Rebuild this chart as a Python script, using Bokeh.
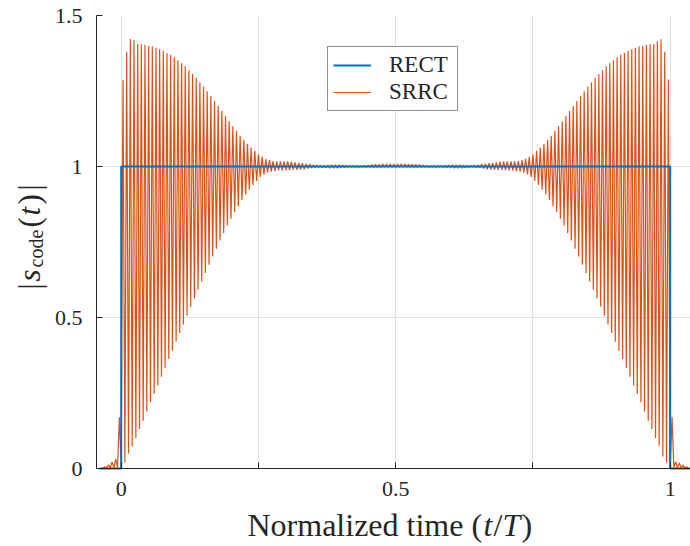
import numpy as np
from bokeh.plotting import figure
from bokeh.models import Range1d, FixedTicker, Label, Legend, LegendItem, Grid
from bokeh.embed import file_html
from bokeh.resources import INLINE

# ---------------- data ----------------
N_CYCLES = 150          # oscillation cycles of |s_code| over one period T
K_FIRST = -5            # index of first cycle (tail before t = 0)

# peak values of SRRC |s_code(t)| at t = (k + 0.5) / N_CYCLES, k = -5 .. 154
srrc_peaks = [
    0.006, 0.012, 0.022, 0.031, 0.170,
    1.286, 1.380, 1.422, 1.418, 1.406, 1.405, 1.403, 1.400, 1.398, 1.393,
    1.388, 1.383, 1.376, 1.370, 1.362, 1.352, 1.342, 1.332, 1.319, 1.306,
    1.294, 1.279, 1.265, 1.249, 1.234, 1.217, 1.201, 1.184, 1.167, 1.150,
    1.133, 1.118, 1.102, 1.088, 1.075, 1.063, 1.052, 1.040, 1.032, 1.025,
    1.021, 1.018, 1.017, 1.017, 1.017, 1.017, 1.016, 1.014, 1.012, 1.011,
    1.009, 1.008, 1.006, 1.005, 1.004, 1.004, 1.005, 1.006, 1.006, 1.006,
    1.005, 1.004, 1.003, 1.003, 1.003, 1.003, 1.004, 1.005, 1.006, 1.007,
    1.007, 1.008, 1.008, 1.008, 1.008,
    1.008, 1.008, 1.008, 1.008, 1.007,
    1.007, 1.006, 1.005, 1.004, 1.003, 1.003, 1.003, 1.003, 1.004, 1.005,
    1.006, 1.006, 1.006, 1.005, 1.004, 1.004, 1.005, 1.006, 1.008, 1.009,
    1.011, 1.012, 1.014, 1.016, 1.017, 1.017, 1.017, 1.017, 1.018, 1.021,
    1.025, 1.032, 1.040, 1.052, 1.063, 1.075, 1.088, 1.102, 1.118, 1.133,
    1.150, 1.167, 1.184, 1.201, 1.217, 1.234, 1.249, 1.265, 1.279, 1.294,
    1.306, 1.319, 1.332, 1.342, 1.352, 1.362, 1.370, 1.376, 1.383, 1.388,
    1.393, 1.398, 1.400, 1.403, 1.405, 1.406, 1.415, 1.421, 1.380, 1.288,
    0.171, 0.022, 0.018, 0.011, 0.006,
]

# trough values of SRRC |s_code(t)| at t = k / N_CYCLES, k = -5 .. 155
srrc_troughs = [
    0.001, 0.002, 0.002, 0.003, 0.004,
    0.000,
    0.020, 0.050, 0.073, 0.101, 0.131, 0.158, 0.189, 0.219, 0.247, 0.275,
    0.304, 0.334, 0.363, 0.390, 0.420, 0.449, 0.477, 0.506, 0.536, 0.564,
    0.592, 0.619, 0.647, 0.675, 0.702, 0.728, 0.755, 0.779, 0.805, 0.827,
    0.849, 0.868, 0.888, 0.907, 0.923, 0.939, 0.952, 0.965, 0.974, 0.980,
    0.983, 0.985, 0.987, 0.987, 0.988, 0.988, 0.989, 0.989, 0.990, 0.991,
    0.993, 0.995, 0.996, 0.997, 0.996, 0.995, 0.994, 0.994, 0.994, 0.995,
    0.996, 0.997, 0.997, 0.997, 0.997, 0.997, 0.997, 0.997, 0.997, 0.997,
    0.998, 0.998, 0.998, 0.998, 0.998,
    0.998, 0.998, 0.998, 0.998, 0.997,
    0.997, 0.997, 0.997, 0.997, 0.997, 0.997, 0.997, 0.997, 0.996, 0.995,
    0.994, 0.994, 0.994, 0.995, 0.996, 0.997, 0.996, 0.995, 0.993, 0.991,
    0.990, 0.989, 0.989, 0.988, 0.988, 0.987, 0.987, 0.985, 0.983, 0.980,
    0.974, 0.965, 0.952, 0.939, 0.923, 0.907, 0.888, 0.868, 0.849, 0.827,
    0.805, 0.779, 0.755, 0.728, 0.702, 0.675, 0.647, 0.619, 0.592, 0.564,
    0.536, 0.506, 0.477, 0.449, 0.420, 0.390, 0.363, 0.334, 0.304, 0.275,
    0.247, 0.219, 0.189, 0.158, 0.131, 0.101, 0.075, 0.040, 0.020, 0.000,
    0.004, 0.003, 0.002, 0.002, 0.001,
]

# RECT pulse |s_code(t)|
rect_t = [-0.04, 0.0, 0.0, 1.0, 1.0, 1.04]
rect_v = [0.0, 0.0, 1.0, 1.0, 0.0, 0.0]

series_names = ["RECT", "SRRC"]
series_colors = ["#0072BD", "#D95319"]

x_lim = (-0.045, 1.037)
y_lim = (0.0, 1.5)
x_ticks = [0, 0.5, 1]
x_tick_labels = ["0", "0.5", "1"]
x_minor_ticks = [0.25, 0.75]
x_grid_lines = [0, 0.25, 0.5, 0.75, 1]
y_ticks = [0, 0.5, 1, 1.5]
y_tick_labels = ["0", "0.5", "1", "1.5"]
y_grid_lines = [0.5, 1]

# ---------------- assemble SRRC trace ----------------
srrc_t, srrc_v = [], []
for i, pv in enumerate(srrc_peaks):
    k = K_FIRST + i
    srrc_t += [k / N_CYCLES, (k + 0.5) / N_CYCLES]
    srrc_v += [srrc_troughs[i], pv]
srrc_t.append((K_FIRST + len(srrc_peaks)) / N_CYCLES)
srrc_v.append(srrc_troughs[len(srrc_peaks)])

# ---------------- figure geometry ----------------
W, H = 690, 546
AX_L, AX_R, AX_T, AX_B = 96, 690, 15, 468      # axes box in canvas pixels
sx = (AX_R - AX_L) / (x_lim[1] - x_lim[0])
sy = (AX_B - AX_T) / (y_lim[1] - y_lim[0])
x_range = Range1d(x_lim[0] - AX_L / sx, x_lim[1] + (W - AX_R) / sx)
y_range = Range1d(y_lim[0] - (H - AX_B) / sy, y_lim[1] + AX_T / sy)

FONT = "Liberation Serif"
INK = "#262626"
GRID = "#e0e0e0"

p = figure(width=W, height=H, output_backend="svg", toolbar_location=None,
           x_range=x_range, y_range=y_range, min_border=0)
p.min_border_left = p.min_border_right = p.min_border_top = p.min_border_bottom = 0
p.outline_line_color = None
p.background_fill_color = "white"
p.border_fill_color = "white"

# axes drawn at fixed data locations (MATLAB-like box-off axes)
p.xaxis.ticker = FixedTicker(ticks=x_ticks, minor_ticks=x_minor_ticks)
p.yaxis.ticker = FixedTicker(ticks=y_ticks, minor_ticks=[])
p.xaxis.major_label_overrides = dict(zip(x_ticks, x_tick_labels))
p.yaxis.major_label_overrides = dict(zip(y_ticks, y_tick_labels))
p.xaxis.fixed_location = y_lim[0]
p.yaxis.fixed_location = x_lim[0]
p.xaxis.bounds = x_lim
p.yaxis.bounds = y_lim

for ax in (p.xaxis[0], p.yaxis[0]):
    ax.axis_line_color = INK
    ax.axis_line_width = 1
    ax.major_tick_line_color = INK
    ax.minor_tick_line_color = INK
    ax.major_tick_in = 6
    ax.major_tick_out = 0
    ax.minor_tick_in = 6
    ax.minor_tick_out = 0
    ax.major_label_text_font = FONT
    ax.major_label_text_font_size = "22px"
    ax.major_label_text_color = INK
p.xaxis.major_label_standoff = 13
p.yaxis.major_label_standoff = 14

# grid lines limited to the axes box
p.xgrid.ticker = FixedTicker(ticks=x_grid_lines, minor_ticks=[])
p.ygrid.ticker = FixedTicker(ticks=y_grid_lines, minor_ticks=[])
if "cross_bounds" in Grid.properties():
    p.xgrid.grid_line_color = GRID
    p.ygrid.grid_line_color = GRID
    p.xgrid.cross_bounds = y_lim
    p.ygrid.cross_bounds = x_lim
else:
    p.xgrid.grid_line_color = None
    p.ygrid.grid_line_color = None
    p.segment(x0=x_grid_lines, y0=[y_lim[0]] * len(x_grid_lines),
              x1=x_grid_lines, y1=[y_lim[1]] * len(x_grid_lines),
              line_color=GRID, line_width=1)
    p.segment(x0=[x_lim[0]] * len(y_grid_lines), y0=y_grid_lines,
              x1=[x_lim[1]] * len(y_grid_lines), y1=y_grid_lines,
              line_color=GRID, line_width=1)

r_srrc = p.line(srrc_t, srrc_v, line_color=series_colors[1], line_width=1.2)
r_rect = p.line(rect_t, rect_v, line_color=series_colors[0], line_width=2)

legend = Legend(items=[LegendItem(label=series_names[0], renderers=[r_rect]),
                       LegendItem(label=series_names[1], renderers=[r_srrc])],
                location=(327, H - 111), orientation="vertical")
legend.label_text_font = FONT
legend.label_text_font_size = "23px"
legend.label_text_color = INK
legend.glyph_width = 38
legend.glyph_height = 22
legend.label_height = 22
legend.label_width = 63
legend.label_standoff = 18
legend.spacing = 1
legend.padding = 5
legend.margin = 0
legend.border_line_color = INK
legend.border_line_width = 1
legend.background_fill_color = "white"
legend.background_fill_alpha = 1
p.add_layout(legend, "center")

# ---------------- axis titles (canvas pixels, y measured from bottom) ----------------
def put(text, x, y, size, italic=False, angle=0.0):
    p.add_layout(Label(x=x, y=y, x_units="screen", y_units="screen", text=text,
                       text_font=FONT, text_font_size=size, text_color=INK,
                       text_font_style="italic" if italic else "normal",
                       text_baseline="alphabetic", text_align="left",
                       angle=angle))

# x label:  Normalized time (t/T)
XL_Y = H - 524
put("Normalized time (", 247, XL_Y, "32px")
put("t", 483, XL_Y, "32px", italic=True)
put("/", 493, XL_Y, "32px")
put("T", 502, XL_Y, "32px", italic=True)
put(")", 521, XL_Y, "32px")

# y label: |s_code(t)|  (rotated, reads bottom to top)
A = np.pi / 2
YL_X = 29
put("|", YL_X, H - 289, "31px", angle=A)
put("s", YL_X, H - 281, "31px", italic=True, angle=A)
put("code", YL_X + 6, H - 267, "20px", angle=A)
put("(", YL_X, H - 227, "31px", angle=A)
put("t", YL_X, H - 215, "31px", italic=True, angle=A)
put(")", YL_X, H - 204, "31px", angle=A)
put("|", YL_X, H - 190, "31px", angle=A)

open("out.html", "w").write(file_html(p, INLINE))
